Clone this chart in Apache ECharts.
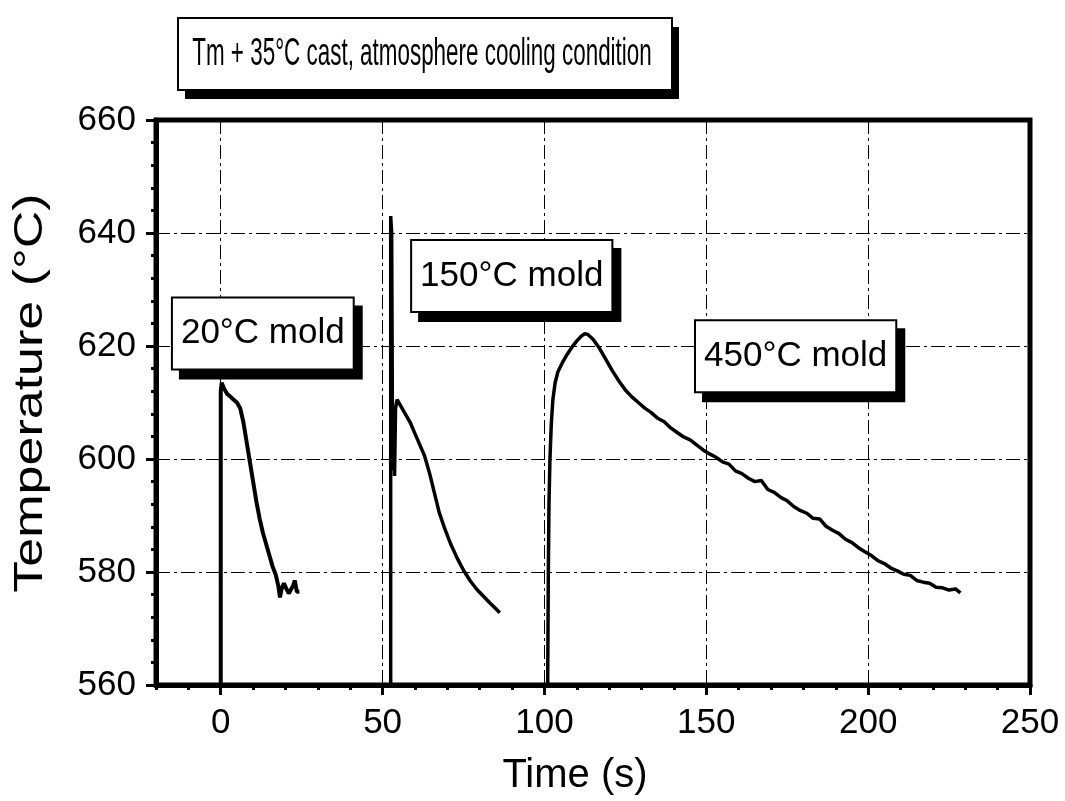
<!DOCTYPE html>
<html><head><meta charset="utf-8">
<script src="https://cdn.jsdelivr.net/npm/echarts@6/dist/echarts.min.js"></script>
<style>html,body{margin:0;padding:0;background:#fff}#c{width:1065px;height:801px}</style>
</head><body><div id="c"></div>
<script>
const titleText = 'Tm + 35°C cast, atmosphere cooling condition';
const xAxisTitle = 'Time (s)';
const yAxisTitle = 'Temperature (°C)';
const xTickLabels = [0, 50, 100, 150, 200, 250];
const yTickLabels = [560, 580, 600, 620, 640, 660];
const seriesNames = ['20°C mold', '150°C mold', '450°C mold'];

const time20 = [0, 0, 0.3, 1, 2, 3, 4, 5, 6, 7, 8, 9, 10, 11, 12, 13, 14, 15, 16, 17, 17.8, 18.3, 18.8, 19.5, 20.3, 21, 21.6, 22.3, 22.9, 23.5, 24.3];
const temp20 = [560, 612, 613.5, 612.5, 611.5, 611, 610.5, 610, 609, 606.5, 603, 599.5, 596, 592.5, 589.5, 587, 585, 583, 581, 579.5, 577.5, 575.5, 577, 578, 577, 576.2, 576.8, 577.5, 578.5, 576.5, 576.5];

const time150 = [52.5, 52.5, 52.8, 53.1, 53.4, 53.7, 54, 54.5, 55.5, 57, 58.5, 60, 61.5, 63, 64.5, 66, 67.5, 69, 71, 73, 75, 77, 79, 81, 83, 85, 86.2];
const temp150 = [560, 643, 640, 598, 608, 597, 609, 610.5, 609.5, 608, 606.5, 604.5, 602.5, 600.5, 597.5, 594, 590.5, 588, 585, 582.5, 580.3, 578.5, 577, 575.8, 574.6, 573.5, 572.8];

const time450 = [101, 101.2, 101.4, 101.7, 102.1, 102.6, 103.3, 104.2, 105.5, 107, 108.5, 110, 111.5, 112.5, 113.5, 115, 117, 119, 121, 123, 125, 127, 129, 131, 133, 135, 137, 139, 141, 143, 145, 147, 149, 151, 153, 155, 157, 159, 161, 163, 165, 167, 169, 171, 173, 175, 177, 179, 181, 183, 185, 187, 189, 191, 193, 195, 197, 199, 201, 203, 205, 207, 209, 211, 213, 215, 217, 219, 221, 223, 225, 227, 228.5];
const temp450 = [560, 580, 592, 600, 606, 610.5, 613.5, 615.5, 617, 618.5, 619.8, 620.9, 621.8, 622.2, 622, 621.2, 619.6, 617.6, 615.6, 613.8, 612.2, 611, 610, 609, 608.2, 607.2, 606.6, 605.5, 604.7, 603.9, 603.4, 602.5, 601.6, 600.9, 600.3, 599.5, 599.1, 597.9, 597.4, 596.6, 596, 596.2, 594.6, 594.1, 593.2, 592.6, 591.6, 590.9, 590.4, 589.5, 589.4, 588.1, 587.4, 586.8, 585.8, 585.2, 584.3, 583.6, 582.9, 582, 581.5, 580.7, 580.2, 579.6, 579.4, 578.5, 578.2, 578, 577.3, 577.2, 576.8, 577, 576.3];

const FONT = '"Liberation Sans", Arial, Helvetica, sans-serif';
function zip(a, b) { return a.map((v, i) => [v, b[i]]); }

const gridLine = { show: true, lineStyle: { color: '#000', width: 1, type: [14, 4, 3, 4] } };
const boxLabel = {
  show: true, position: 'inside', formatter: p => p.name,
  fontFamily: FONT, fontSize: 35, color: '#000', lineHeight: 40,
  backgroundColor: '#fff', borderColor: '#000', borderWidth: 2,
  padding: [15, 8, 15, 8],
  shadowColor: '#000', shadowBlur: 0, shadowOffsetX: 8, shadowOffsetY: 9
};
function marker(name, coord) {
  return {
    symbol: 'rect', symbolSize: 1, itemStyle: { color: 'rgba(0,0,0,0)' },
    label: boxLabel, silent: true,
    data: [{ name: name, coord: coord }]
  };
}

const chart = echarts.init(document.getElementById('c'), null, { renderer: 'canvas' });
chart.setOption({
  animation: false,
  backgroundColor: '#fff',
  textStyle: { fontFamily: FONT, color: '#000' },
  grid: { left: 156, right: 35, top: 120, bottom: 112, show: true, borderColor: '#000', borderWidth: 5, backgroundColor: 'rgba(0,0,0,0)' },
  xAxis: [
    {
      type: 'value', min: -20, max: 250, interval: 10, position: 'bottom',
      axisLine: { show: true, onZero: false, lineStyle: { color: '#000', width: 5 } },
      axisTick: { show: true, inside: false, length: 5, lineStyle: { color: '#000', width: 3 } },
      axisLabel: { show: false }, splitLine: { show: false }
    },
    {
      type: 'value', min: -20, max: 250, position: 'bottom',
      axisLine: { show: false, onZero: false },
      axisTick: { show: true, inside: false, length: 10, customValues: xTickLabels, lineStyle: { color: '#000', width: 3 } },
      axisLabel: { show: true, customValues: xTickLabels, fontSize: 35, margin: 21, color: '#000', fontFamily: FONT },
      splitLine: gridLine,
      name: xAxisTitle, nameLocation: 'middle', nameGap: 71,
      nameTextStyle: { fontSize: 40, color: '#000', fontFamily: FONT, padding: [0, 36, 0, 0] }
    }
  ],
  yAxis: {
    type: 'value', min: 560, max: 660, interval: 20,
    axisLine: { show: true, onZero: false, lineStyle: { color: '#000', width: 5 } },
    axisTick: { show: true, inside: false, length: 10, lineStyle: { color: '#000', width: 3 } },
    minorTick: { show: true, splitNumber: 5, length: 5, lineStyle: { color: '#000', width: 3 } },
    axisLabel: { show: true, customValues: yTickLabels, fontSize: 35, margin: 20, color: '#000', fontFamily: FONT },
    splitLine: gridLine
  },
  graphic: [
    { type: 'rect', z: 100, shape: { x: 185, y: 27, width: 494, height: 72 }, style: { fill: '#000' } },
    { type: 'rect', z: 101, shape: { x: 178, y: 18, width: 494, height: 72 }, style: { fill: '#fff', stroke: '#000', lineWidth: 2 } },
    { type: 'text', z: 102, x: 422, y: 55, scaleX: 0.59,
      style: { text: titleText, font: '38px ' + FONT, fill: '#000', align: 'center', verticalAlign: 'middle', textAlign: 'center', textVerticalAlign: 'middle' } },
    { type: 'text', z: 102, x: 31, y: 393, rotation: Math.PI / 2, scaleX: 1.3,
      style: { text: yAxisTitle, font: '40px ' + FONT, fill: '#000', align: 'center', verticalAlign: 'middle', textAlign: 'center', textVerticalAlign: 'middle' } }
  ],
  series: [
    { name: seriesNames[0], type: 'line', xAxisIndex: 0, data: zip(time20, temp20), showSymbol: false, symbol: 'none',
      lineStyle: { color: '#000', width: 4 }, markPoint: marker(seriesNames[0], [13, 622.2]) },
    { name: seriesNames[1], type: 'line', xAxisIndex: 0, data: zip(time150, temp150), showSymbol: false, symbol: 'none',
      lineStyle: { color: '#000', width: 3.5 }, markPoint: marker(seriesNames[1], [89.9, 632.4]) },
    { name: seriesNames[2], type: 'line', xAxisIndex: 0, data: zip(time450, temp450), showSymbol: false, symbol: 'none',
      lineStyle: { color: '#000', width: 3.5 }, markPoint: marker(seriesNames[2], [177.6, 618.2]) }
  ]
});
</script></body></html>
